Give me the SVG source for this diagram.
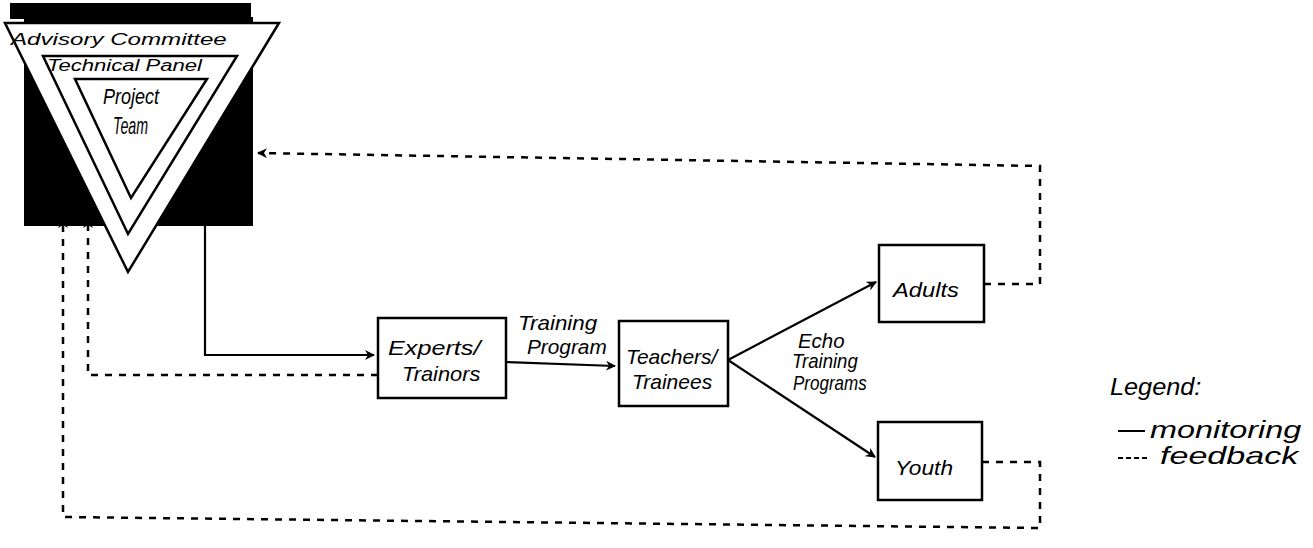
<svg xmlns="http://www.w3.org/2000/svg" width="1313" height="548" viewBox="0 0 1313 548">
<style>
text{font-family:"Liberation Sans",Arial,sans-serif;fill:#000;font-style:italic}
.box{fill:#fff;stroke:#000;stroke-width:2.5}
.mon{fill:none;stroke:#000;stroke-width:2.2}
.fb{fill:none;stroke:#000;stroke-width:2.5;stroke-dasharray:7 7}
.tri{fill:#fff;stroke:#000;stroke-width:2.5;stroke-linejoin:miter}
</style>
<defs>
<marker id="ah" viewBox="0 0 10 10" refX="9" refY="5" markerWidth="10" markerHeight="10" markerUnits="userSpaceOnUse" orient="auto">
<path d="M0,0 L10,5 L0,10 L3,5 Z" fill="#000"/>
</marker>
</defs>
<rect width="1313" height="548" fill="#fff"/>

<g id="hierarchy">
<rect x="10" y="3" width="241" height="16" fill="#000"/>
<rect x="24" y="17" width="229" height="209" fill="#000"/>
<polygon class="tri" points="5,23 279,23 128,272"/>
<polygon class="tri" points="43,56 237,56 128,234"/>
<polygon class="tri" points="75,79 207,79 131,198"/>
<text font-size="17" transform="translate(11,45) scale(1.42,1)">Advisory Committee</text>
<text font-size="16" transform="translate(47,71) scale(1.38,1)">Technical Panel</text>
<text font-size="22" transform="translate(103,104) scale(0.82,1)">Project</text>
<text font-size="23" transform="translate(113,134) scale(0.62,1)">Team</text>
</g>

<g id="experts">
<rect class="box" x="378" y="318" width="128" height="80"/>
<text font-size="21" transform="translate(388,355) scale(1.2,1)">Experts/</text>
<text font-size="21" transform="translate(402,381) scale(1.04,1)">Trainors</text>
</g>

<g id="teachers">
<rect class="box" x="619" y="321" width="109" height="85"/>
<text font-size="21" transform="translate(626,364) scale(1.0,1)">Teachers/</text>
<text font-size="21" transform="translate(632,389) scale(1.0,1)">Trainees</text>
</g>

<g id="adults">
<rect class="box" x="879" y="245" width="105" height="77"/>
<text font-size="21" transform="translate(893,297) scale(1.13,1)">Adults</text>
</g>

<g id="youth">
<rect class="box" x="878" y="422" width="104" height="78"/>
<text font-size="21" transform="translate(895,475) scale(1.08,1)">Youth</text>
</g>

<g id="connectors">
<polyline class="mon" points="205,226 205,355 374,355" marker-end="url(#ah)"/>
<line class="mon" x1="506" y1="362" x2="615" y2="366" marker-end="url(#ah)"/>
<line class="mon" x1="728" y1="360" x2="876" y2="282" marker-end="url(#ah)"/>
<line class="mon" x1="728" y1="360" x2="875" y2="457" marker-end="url(#ah)"/>
<polyline class="fb" points="984,284 1040,284 1040,166 258,153" marker-end="url(#ah)"/>
<polyline class="fb" points="982,462 1040,462 1040,528 63,517 63,219" marker-end="url(#ah)"/>
<polyline class="fb" points="378,375 88,375 88,219" marker-end="url(#ah)"/>
<text font-size="20" transform="translate(518,330) scale(1.12,1)">Training</text>
<text font-size="20" transform="translate(527,354) scale(1.04,1)">Program</text>
<text font-size="20" transform="translate(798,348) scale(1.02,1)">Echo</text>
<text font-size="20" transform="translate(792,368) scale(0.93,1)">Training</text>
<text font-size="20" transform="translate(793,390) scale(0.85,1)">Programs</text>
</g>

<g id="legend">
<text font-size="23" transform="translate(1110,395) scale(1.1,1)">Legend:</text>
<line x1="1118" y1="431" x2="1145" y2="431" stroke="#000" stroke-width="2"/>
<text font-size="24" transform="translate(1150,438) scale(1.35,1)">monitoring</text>
<line x1="1118" y1="458" x2="1148" y2="458" stroke="#000" stroke-width="2" stroke-dasharray="5 3"/>
<text font-size="24" transform="translate(1160,464) scale(1.42,1)">feedback</text>
</g>
</svg>
